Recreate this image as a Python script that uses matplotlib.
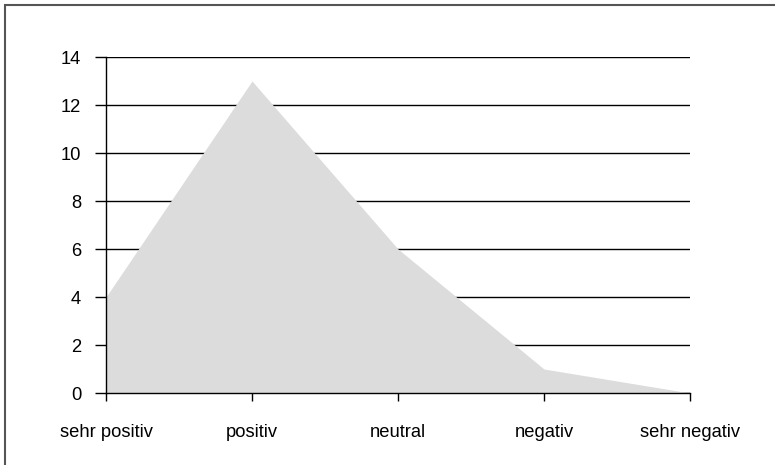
import matplotlib
matplotlib.use("Agg")
import matplotlib.pyplot as plt
from matplotlib.patches import Rectangle

# Data
categories = ["sehr positiv", "positiv", "neutral", "negativ", "sehr negativ"]
values = [4, 13, 6, 1, 0]
y_ticks = [0, 2, 4, 6, 8, 10, 12, 14]

plt.rcParams["font.family"] = ["Liberation Sans", "DejaVu Sans"]

fig = plt.figure(figsize=(7.75, 4.65), dpi=100)
ax = fig.add_axes([106 / 775, 1 - 393 / 465, (690 - 106) / 775, (393 - 57) / 465])

x = list(range(len(categories)))
ax.set_axisbelow(True)
ax.yaxis.grid(True, color="black", linewidth=1.0)
ax.fill_between(x, values, 0, color="#dcdcdc", linewidth=0, zorder=2)

ax.set_xlim(0, len(categories) - 1)
ax.set_ylim(0, 14)
ax.set_xticks(x)
ax.set_xticklabels(categories)
ax.set_yticks(y_ticks)

for side in ["top", "right"]:
    ax.spines[side].set_visible(False)
for side in ["left", "bottom"]:
    ax.spines[side].set_linewidth(1.0)
    ax.spines[side].set_zorder(3)

ax.tick_params(axis="x", length=6, width=1, pad=16.5, labelsize=13.2)
ax.tick_params(axis="y", length=8, width=1, pad=10, labelsize=13.2)

# outer frame (only top and left edges fall inside the image)
fig.patches.append(Rectangle((5 / 775, -0.1), 1.2, 1 - 5 / 465 + 0.1,
                             transform=fig.transFigure, fill=False,
                             edgecolor="#555555", linewidth=1.5))

fig.savefig("out.png", dpi=100)
